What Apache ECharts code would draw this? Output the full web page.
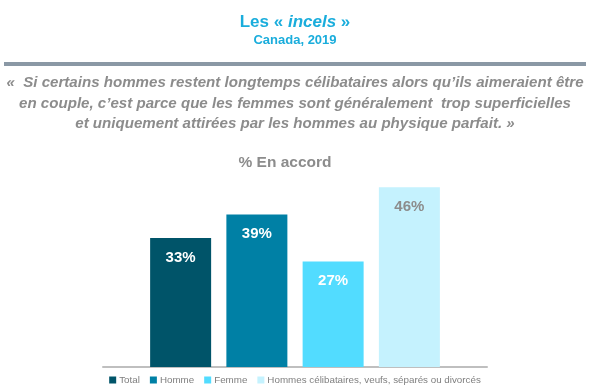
<!DOCTYPE html>
<html><head><meta charset="utf-8">
<script src="https://cdn.jsdelivr.net/npm/echarts@6/dist/echarts.min.js"></script>
<style>html,body{margin:0;padding:0;background:#fff}#c{width:590px;height:392px}</style>
</head><body><div id="c"></div>
<script>
const categories = [''];
const seriesNames = ['Total', 'Homme', 'Femme', 'Hommes célibataires, veufs, séparés ou divorcés'];
const values = [33, 39, 27, 46];
const colors = ['#005469', '#0080A5', '#52DCFF', '#C5F2FE'];
const labelColors = ['#FFFFFF', '#FFFFFF', '#FFFFFF', '#8C8C8C'];
const quoteLines = [
  '«  Si certains hommes restent longtemps célibataires alors qu’ils aimeraient être',
  'en couple, c’est parce que les femmes sont généralement  trop superficielles',
  'et uniquement attirées par les hommes au physique parfait. »'
];
const FONT = '"Liberation Sans", Arial, sans-serif';
const chart = echarts.init(document.getElementById('c'));
chart.setOption({
  animation: false,
  textStyle: { fontFamily: FONT },
  graphic: [
    { type: 'text', left: 'center', top: 14, style: { text: '{a|Les « }{b|incels}{a| »}', rich: {
      a: { fontFamily: FONT, fontWeight: 'bold', fontSize: 17, fill: '#1AADDC' },
      b: { fontFamily: FONT, fontWeight: 'bold', fontStyle: 'italic', fontSize: 17, fill: '#1AADDC' } } } },
    { type: 'text', left: 'center', top: 34, style: { text: 'Canada, 2019', fontFamily: FONT, fontWeight: 'bold', fontSize: 13, fill: '#1AADDC' } },
    { type: 'rect', shape: { x: 4, y: 62, width: 582, height: 4 }, style: { fill: '#8A98A5' } },
    { type: 'text', x: 295, y: 73, style: { text: quoteLines.join('\n'), align: 'center', lineHeight: 20.5, fontFamily: FONT, fontWeight: 'bold', fontStyle: 'italic', fontSize: 15.1, fill: '#8C8C8C' } },
    { type: 'text', x: 285, y: 155, style: { text: '% En accord', align: 'center', fontFamily: FONT, fontWeight: 'bold', fontSize: 15.5, fill: '#8C8C8C' } }
  ],
  legend: {
    bottom: 2, left: 'center', itemWidth: 7, itemHeight: 7, itemGap: 10, icon: 'rect',
    textStyle: { color: '#7F7F7F', fontSize: 9.8, fontFamily: FONT, padding: [0, 0, 0, -2] },
    data: seriesNames
  },
  grid: { left: 103, width: 384, top: 171.5, height: 195.5 },
  xAxis: { type: 'category', data: categories, axisLine: { lineStyle: { color: '#BFBFBF', width: 2 } }, axisTick: { show: false }, axisLabel: { show: false } },
  yAxis: { type: 'value', min: 0, max: 50, show: false, splitLine: { show: false } },
  series: seriesNames.map((n, i) => ({
    name: n, type: 'bar', data: [values[i]], barWidth: 61, barGap: '25%',
    itemStyle: { color: colors[i] },
    label: { show: true, position: 'insideTop', distance: 12, formatter: '{c}%', color: labelColors[i], fontSize: 15, fontWeight: 'bold', fontFamily: FONT }
  }))
});
</script></body></html>
